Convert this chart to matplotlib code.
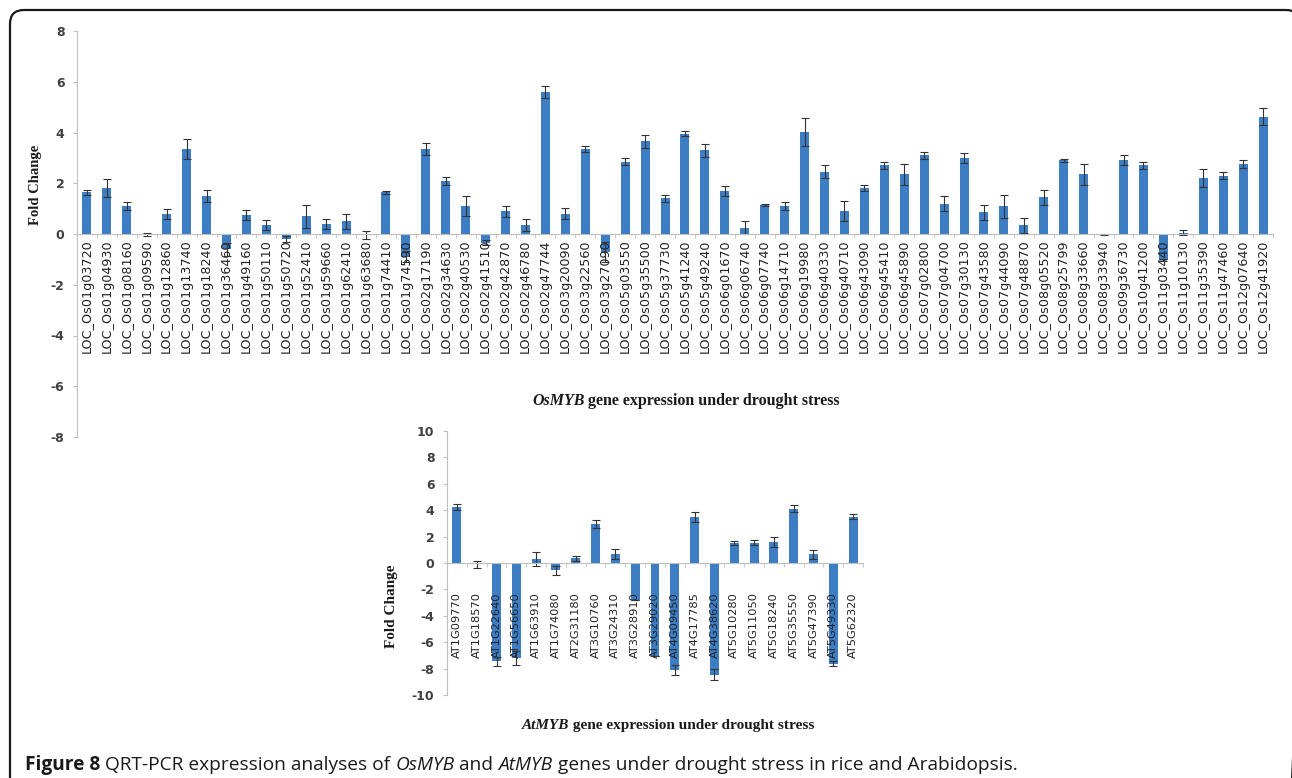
import matplotlib
matplotlib.use("Agg")
import matplotlib.pyplot as plt
from matplotlib.patches import FancyBboxPatch
from matplotlib import font_manager
import numpy as np

plt.rcParams['axes.unicode_minus'] = False

# Rice (OsMYB) genes, fold change and error
os_genes = [
    "LOC_Os01g03720", "LOC_Os01g04930", "LOC_Os01g08160", "LOC_Os01g09590",
    "LOC_Os01g12860", "LOC_Os01g13740", "LOC_Os01g18240", "LOC_Os01g36460",
    "LOC_Os01g49160", "LOC_Os01g50110", "LOC_Os01g50720", "LOC_Os01g52410",
    "LOC_Os01g59660", "LOC_Os01g62410", "LOC_Os01g63680", "LOC_Os01g74410",
    "LOC_Os01g74590", "LOC_Os02g17190", "LOC_Os02g34630", "LOC_Os02g40530",
    "LOC_Os02g41510", "LOC_Os02g42870", "LOC_Os02g46780", "LOC_Os02g47744",
    "LOC_Os03g20090", "LOC_Os03g22560", "LOC_Os03g27090", "LOC_Os05g03550",
    "LOC_Os05g35500", "LOC_Os05g37730", "LOC_Os05g41240", "LOC_Os05g49240",
    "LOC_Os06g01670", "LOC_Os06g06740", "LOC_Os06g07740", "LOC_Os06g14710",
    "LOC_Os06g19980", "LOC_Os06g40330", "LOC_Os06g40710", "LOC_Os06g43090",
    "LOC_Os06g45410", "LOC_Os06g45890", "LOC_Os07g02800", "LOC_Os07g04700",
    "LOC_Os07g30130", "LOC_Os07g43580", "LOC_Os07g44090", "LOC_Os07g48870",
    "LOC_Os08g05520", "LOC_Os08g25799", "LOC_Os08g33660", "LOC_Os08g33940",
    "LOC_Os09g36730", "LOC_Os10g41200", "LOC_Os11g03440", "LOC_Os11g10130",
    "LOC_Os11g35390", "LOC_Os11g47460", "LOC_Os12g07640", "LOC_Os12g41920",
]
os_fold = [
    1.65, 1.8, 1.1, -0.02, 0.8, 3.35, 1.5, -0.6, 0.75, 0.35,
    -0.2, 0.7, 0.4, 0.5, -0.05, 1.65, -0.9, 3.35, 2.1, 1.1,
    -0.35, 0.9, 0.35, 5.6, 0.8, 3.35, -0.7, 2.85, 3.65, 1.4,
    3.95, 3.3, 1.7, 0.25, 1.15, 1.1, 4.02, 2.45, 0.9, 1.8,
    2.7, 2.35, 3.1, 1.2, 3.0, 0.85, 1.1, 0.35, 1.45, 2.9,
    2.35, -0.02, 2.9, 2.7, -1.02, 0.05, 2.2, 2.3, 2.75, 4.63,
]
os_err = [
    0.1, 0.35, 0.15, 0.04, 0.2, 0.38, 0.25, 0.25, 0.18, 0.2,
    0.12, 0.45, 0.2, 0.3, 0.15, 0.06, 0.22, 0.22, 0.15, 0.4,
    0.1, 0.22, 0.25, 0.25, 0.22, 0.12, 0.4, 0.15, 0.25, 0.15,
    0.1, 0.25, 0.2, 0.25, 0.05, 0.15, 0.55, 0.25, 0.4, 0.12,
    0.15, 0.4, 0.15, 0.3, 0.2, 0.3, 0.45, 0.3, 0.3, 0.05,
    0.4, 0.03, 0.2, 0.15, 0.03, 0.1, 0.35, 0.15, 0.15, 0.33,
]

# Arabidopsis (AtMYB) genes
at_genes = [
    "AT1G09770", "AT1G18570", "AT1G22640", "AT1G56650", "AT1G63910",
    "AT1G74080", "AT2G31180", "AT3G10760", "AT3G24310", "AT3G28910",
    "AT3G29020", "AT4G09450", "AT4G17785", "AT4G38620", "AT5G10280",
    "AT5G11050", "AT5G18240", "AT5G35550", "AT5G47390", "AT5G49330",
    "AT5G62320",
]
at_fold = [
    4.22, -0.1, -7.45, -7.2, 0.3, -0.56, 0.35, 2.95, 0.7, -2.8,
    -7.05, -8.1, 3.48, -8.45, 1.5, 1.55, 1.6, 4.12, 0.65, -7.62,
    3.52,
]
at_err = [
    0.22, 0.25, 0.35, 0.5, 0.5, 0.35, 0.2, 0.32, 0.38, 0.0,
    0.0, 0.38, 0.38, 0.42, 0.15, 0.22, 0.35, 0.25, 0.35, 0.18,
    0.18,
]

bar_color = "#3C7DC4"
axis_color = "#BFBFBF"
text_color = "#404040"

W, H = 1292, 778
fig = plt.figure(figsize=(W / 100, H / 100), dpi=100)

# pixel-coordinate overlay for the frame and free text
frame = fig.add_axes([0, 0, 1, 1], zorder=-1)
frame.set_xlim(0, W)
frame.set_ylim(H, 0)
frame.axis("off")
frame.add_patch(FancyBboxPatch((10, 10), 1290, 820,
                               boxstyle="round,pad=0,rounding_size=14",
                               fill=False, ec="#1a1a1a", lw=1.6))


def bar_panel(rect, names, vals, errs, ylim, label_size, label_pad):
    ax = fig.add_axes(rect)
    ax.patch.set_visible(False)
    x = np.arange(len(names))
    ax.bar(x, vals, width=0.45, color=bar_color, zorder=1)
    ax.errorbar(x, vals, yerr=errs, fmt="none", ecolor="#333333",
                elinewidth=0.8, capsize=3, capthick=0.8, zorder=2)
    ax.set_xlim(-0.5, len(names) - 0.5)
    ax.set_ylim(*ylim)
    ax.set_yticks(np.arange(ylim[0], ylim[1] + 1, 2))
    for s in ["top", "right"]:
        ax.spines[s].set_visible(False)
    ax.spines["bottom"].set_position(("data", 0))
    ax.spines["bottom"].set_color(axis_color)
    ax.spines["left"].set_color(axis_color)
    ax.set_xticks(x)
    ax.set_xticklabels(names, rotation=90, fontsize=label_size, color="#222222")
    ax.set_xticks(np.arange(-0.5, len(names)), minor=True)
    ax.tick_params(axis="x", which="major", length=0, pad=label_pad)
    ax.tick_params(axis="x", which="minor", length=3, color=axis_color,
                   direction="out")
    ax.tick_params(axis="y", length=3, color=axis_color, labelsize=9,
                   labelcolor=text_color, pad=6)
    for t in ax.get_yticklabels():
        t.set_fontweight("bold")
    return ax


bar_panel([77 / W, 1 - 437 / H, 1196 / W, 406 / H], os_genes, os_fold,
          os_err, (-8, 8), 9.2, 4)
bar_panel([447 / W, 1 - 695 / H, 416 / W, 264 / H], at_genes, at_fold,
          at_err, (-10, 10), 8.2, 21)

renderer = fig.canvas.get_renderer()


def pieces(x, y, parts, size, family, center=False):
    # parts: list of (text, style, weight), placed left to right
    texts = []
    cur = x
    for s, style, weight in parts:
        t = frame.text(cur, y, s, fontsize=size, family=family,
                       fontstyle=style, fontweight=weight, color="#1a1a1a",
                       ha="left", va="baseline")
        cur += t.get_window_extent(renderer).width
        texts.append(t)
    if center:
        shift = (cur - x) / 2
        for t in texts:
            px, py = t.get_position()
            t.set_position((px - shift, py))
    return texts


serif = ["Liberation Serif", "DejaVu Serif"]
frame.text(35, 185, "Fold Change", rotation=90, fontsize=10.5, family=serif,
           fontweight="bold", ha="center", va="center", color="#1a1a1a")
frame.text(392, 606, "Fold Change", rotation=90, fontsize=11, family=serif,
           fontweight="bold", ha="center", va="center", color="#1a1a1a")

pieces(686, 405, [("OsMYB", "italic", "bold"),
                  (" gene expression under drought stress", "normal", "bold")],
       11.5, serif, center=True)
pieces(668, 729, [("AtMYB", "italic", "bold"),
                  (" gene expression under drought stress", "normal", "bold")],
       11, serif, center=True)

names = {f.name for f in font_manager.fontManager.ttflist}
cap_font = "Liberation Sans Narrow" if "Liberation Sans Narrow" in names else "Open Sans"
pieces(25, 770, [("Figure 8", "normal", "bold"),
                 (" QRT-PCR expression analyses of ", "normal", "normal"),
                 ("OsMYB", "italic", "normal"),
                 (" and ", "normal", "normal"),
                 ("AtMYB", "italic", "normal"),
                 (" genes under drought stress in rice and Arabidopsis.",
                  "normal", "normal")],
       13.8, cap_font)

fig.savefig("out.png", dpi=100)
